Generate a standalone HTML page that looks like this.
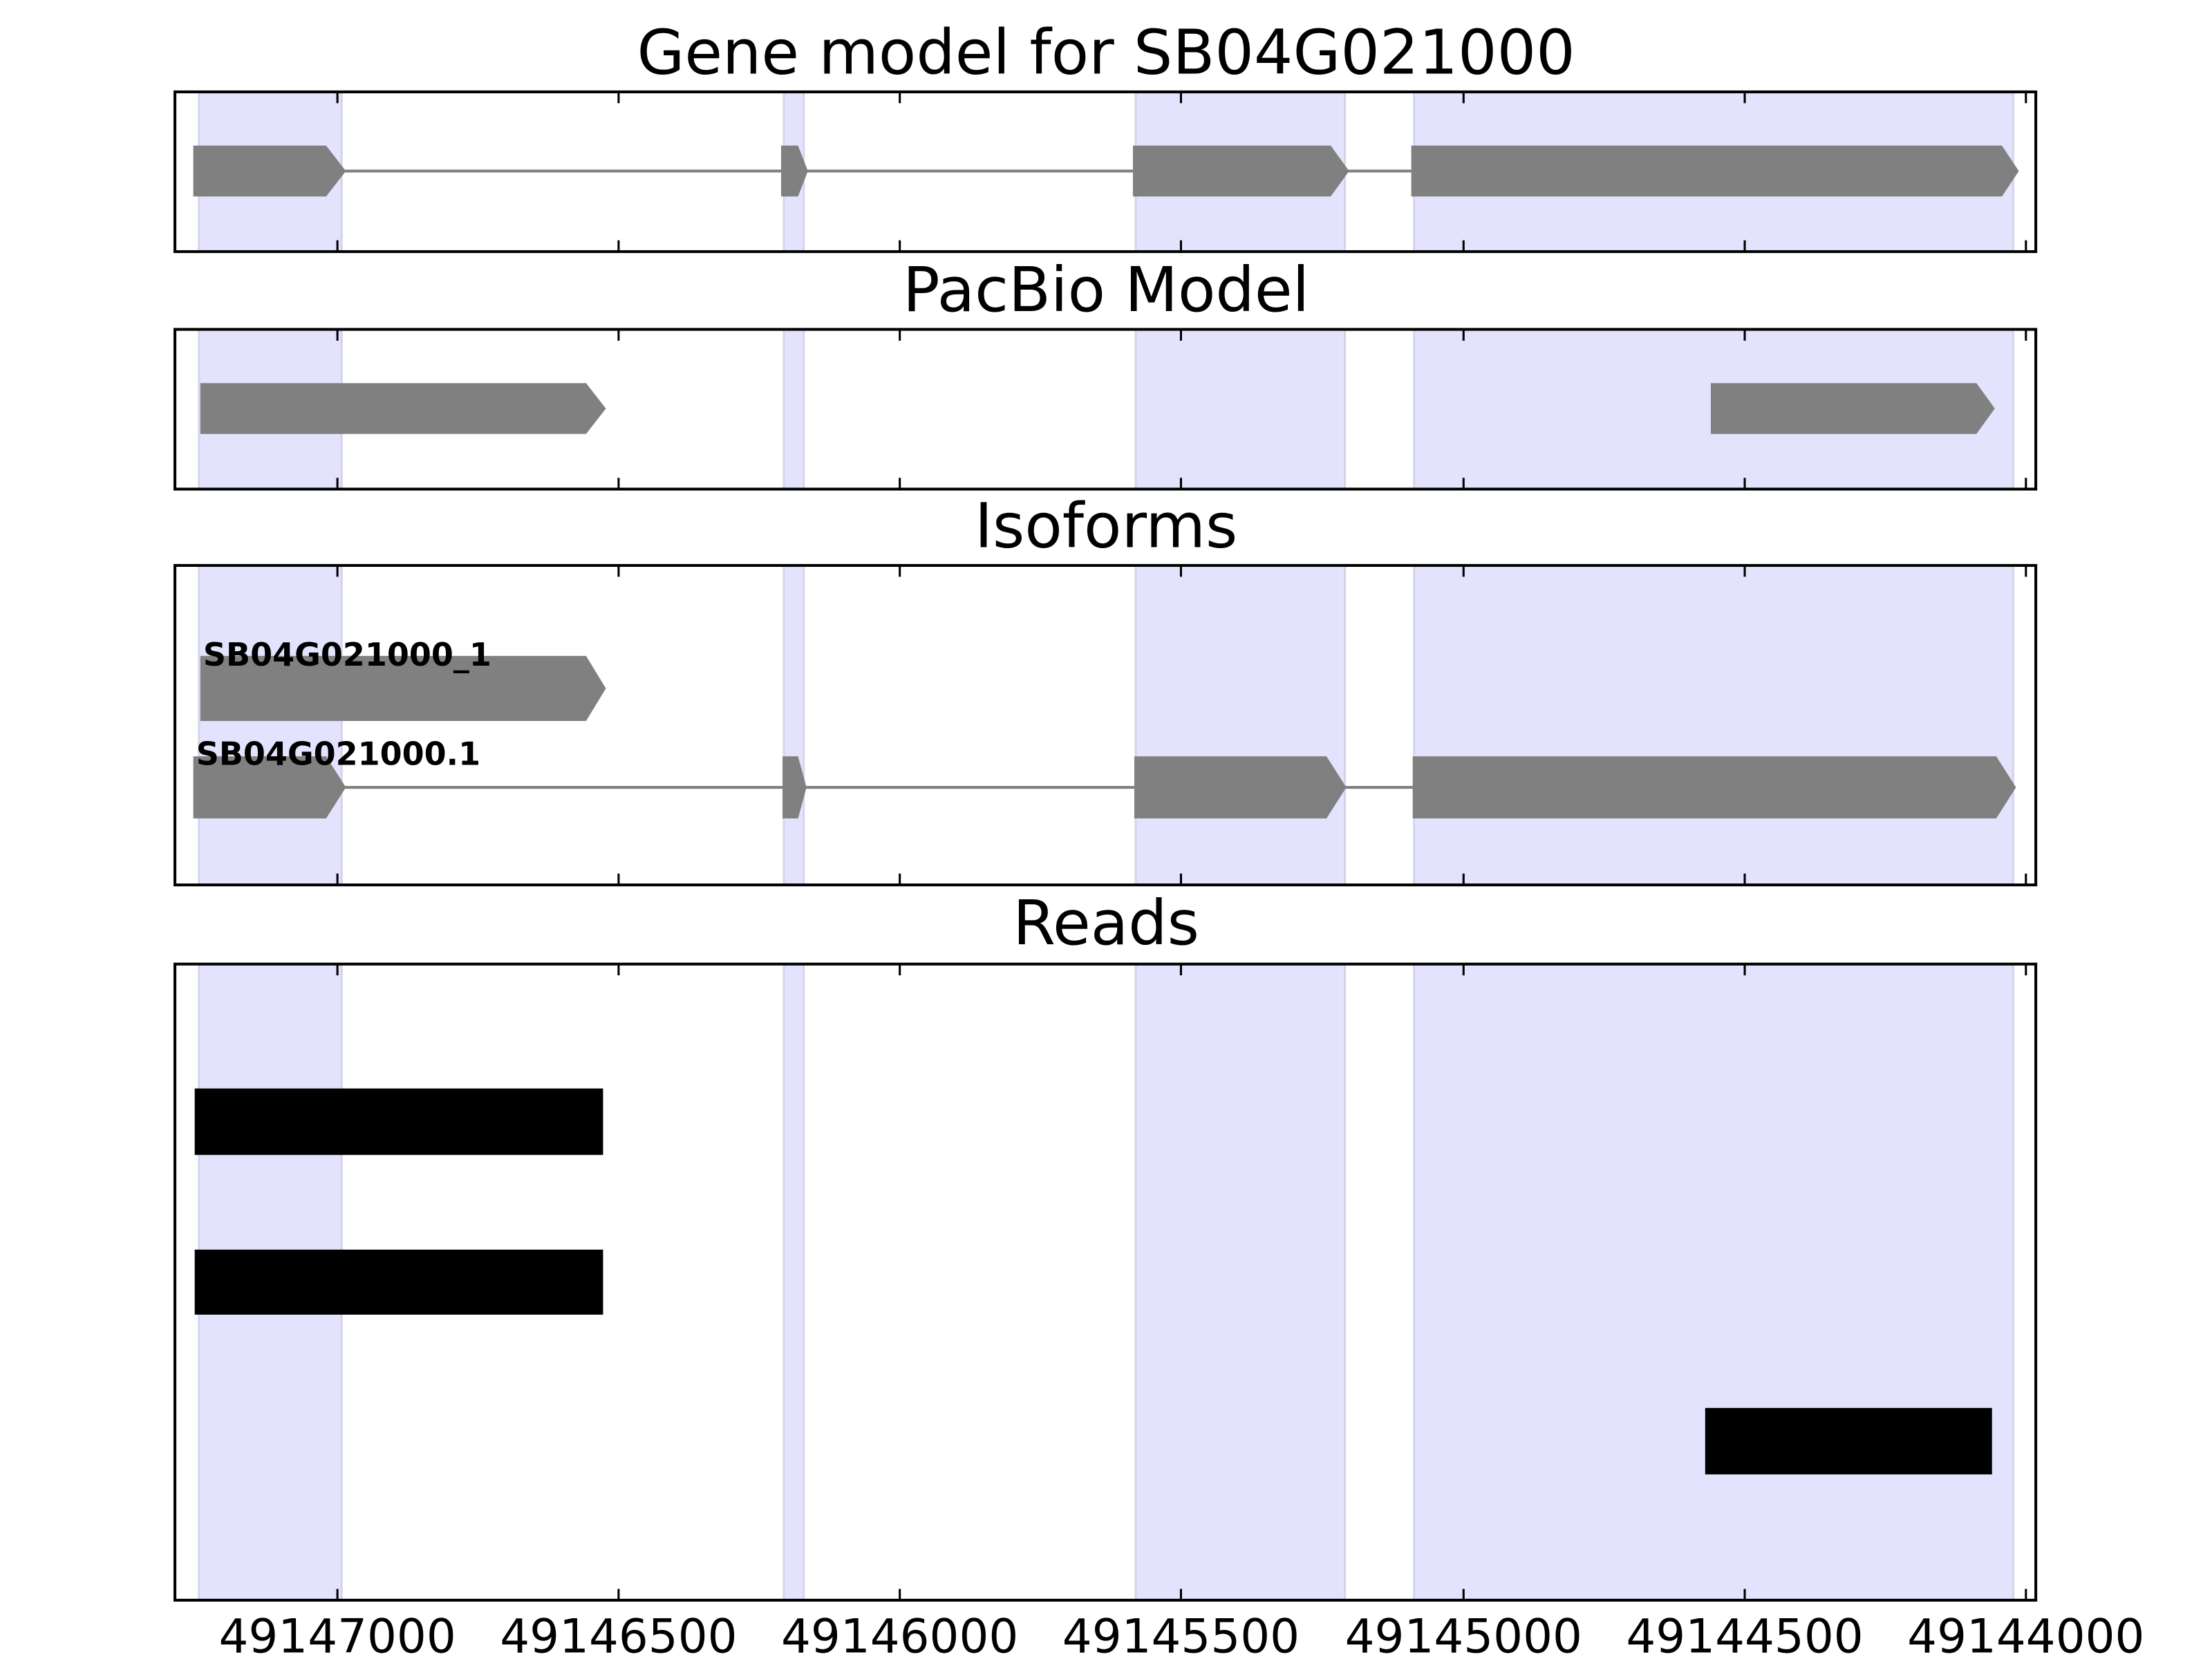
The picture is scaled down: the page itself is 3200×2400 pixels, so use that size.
<!DOCTYPE html>
<html><head><meta charset="utf-8"><style>
html,body{margin:0;padding:0;background:#fff;}
svg{display:block;}
text{font-family:"DejaVu Sans","Liberation Sans",sans-serif;}
</style></head><body>
<svg width="3200" height="2400" viewBox="1.2 1 1565.5 1173.6" preserveAspectRatio="none" xmlns="http://www.w3.org/2000/svg">
<rect x="0" y="0" width="1600" height="1200" fill="#fff"/>
<g fill="#e3e3fd" stroke="#d4d4ec" stroke-width="1.5">
<rect x="142" y="66" width="101" height="113"/><rect x="556" y="66" width="14" height="113"/><rect x="805" y="66" width="148" height="113"/><rect x="1002" y="66" width="424" height="113"/>
<rect x="142" y="234" width="101" height="113"/><rect x="556" y="234" width="14" height="113"/><rect x="805" y="234" width="148" height="113"/><rect x="1002" y="234" width="424" height="113"/>
<rect x="142" y="401" width="101" height="226"/><rect x="556" y="401" width="14" height="226"/><rect x="805" y="401" width="148" height="226"/><rect x="1002" y="401" width="424" height="226"/>
<rect x="142" y="683" width="101" height="450"/><rect x="556" y="683" width="14" height="450"/><rect x="805" y="683" width="148" height="450"/><rect x="1002" y="683" width="424" height="450"/>
</g>
<g fill="#808080" stroke="#808080" stroke-width="2">
<line x1="240" y1="122" x2="556" y2="122"/><line x1="570" y1="122" x2="805" y2="122"/><line x1="950" y1="122" x2="1002" y2="122"/>
<polygon stroke="none" points="138,104 232,104 246,122 232,140 138,140"/>
<polygon stroke="none" points="554,104 566,104 573,122 566,140 554,140"/>
<polygon stroke="none" points="803,104 943,104 956,122 943,140 803,140"/>
<polygon stroke="none" points="1000,104 1418,104 1430,122 1418,140 1000,140"/>
<polygon stroke="none" points="143,272 416,272 430,290 416,308 143,308"/>
<polygon stroke="none" points="1212,272 1400,272 1413,290 1400,308 1212,308"/>
<polygon stroke="none" points="143,465 416,465 430,488 416,511 143,511"/>
<line x1="240" y1="558" x2="556" y2="558"/><line x1="570" y1="558" x2="805" y2="558"/><line x1="950" y1="558" x2="1002" y2="558"/>
<polygon stroke="none" points="138,536 232,536 246,558 232,580 138,580"/>
<polygon stroke="none" points="555,536 566,536 572,558 566,580 555,580"/>
<polygon stroke="none" points="804,536 940,536 954,558 940,580 804,580"/>
<polygon stroke="none" points="1001,536 1414,536 1428,558 1414,580 1001,580"/>
</g>
<text x="145" y="472" font-size="22.5" font-weight="bold">SB04G021000_1</text>
<text x="140" y="542" font-size="22.5" font-weight="bold">SB04G021000.1</text>
<g fill="#000">
<rect x="139" y="771" width="289" height="47"/>
<rect x="139" y="885" width="289" height="46"/>
<rect x="1208" y="997" width="203" height="47"/>
</g>
<g fill="none" stroke="#000" stroke-width="2">
<rect x="125" y="66" width="1317" height="113"/>
<rect x="125" y="234" width="1317" height="113"/>
<rect x="125" y="401" width="1317" height="226"/>
<rect x="125" y="683" width="1317" height="450"/>
</g>
<g stroke="#000" stroke-width="1.5">
<path d="M240,66v8M439,66v8M638,66v8M837,66v8M1037,66v8M1236,66v8M1435,66v8 M240,179v-8M439,179v-8M638,179v-8M837,179v-8M1037,179v-8M1236,179v-8M1435,179v-8"/>
<path d="M240,234v8M439,234v8M638,234v8M837,234v8M1037,234v8M1236,234v8M1435,234v8 M240,347v-8M439,347v-8M638,347v-8M837,347v-8M1037,347v-8M1236,347v-8M1435,347v-8"/>
<path d="M240,401v8M439,401v8M638,401v8M837,401v8M1037,401v8M1236,401v8M1435,401v8 M240,627v-8M439,627v-8M638,627v-8M837,627v-8M1037,627v-8M1236,627v-8M1435,627v-8"/>
<path d="M240,683v8M439,683v8M638,683v8M837,683v8M1037,683v8M1236,683v8M1435,683v8 M240,1133v-8M439,1133v-8M638,1133v-8M837,1133v-8M1037,1133v-8M1236,1133v-8M1435,1133v-8"/>
</g>
<g font-size="43.5" text-anchor="middle">
<text x="784" y="53">Gene model for SB04G021000</text>
<text x="784" y="221">PacBio Model</text>
<text x="784" y="388">Isoforms</text>
<text x="784" y="669">Reads</text>
</g>
<g font-size="33" text-anchor="middle">
<text x="240" y="1170">49147000</text>
<text x="439" y="1170">49146500</text>
<text x="638" y="1170">49146000</text>
<text x="837" y="1170">49145500</text>
<text x="1037" y="1170">49145000</text>
<text x="1236" y="1170">49144500</text>
<text x="1435" y="1170">49144000</text>
</g>
</svg>
</body></html>
